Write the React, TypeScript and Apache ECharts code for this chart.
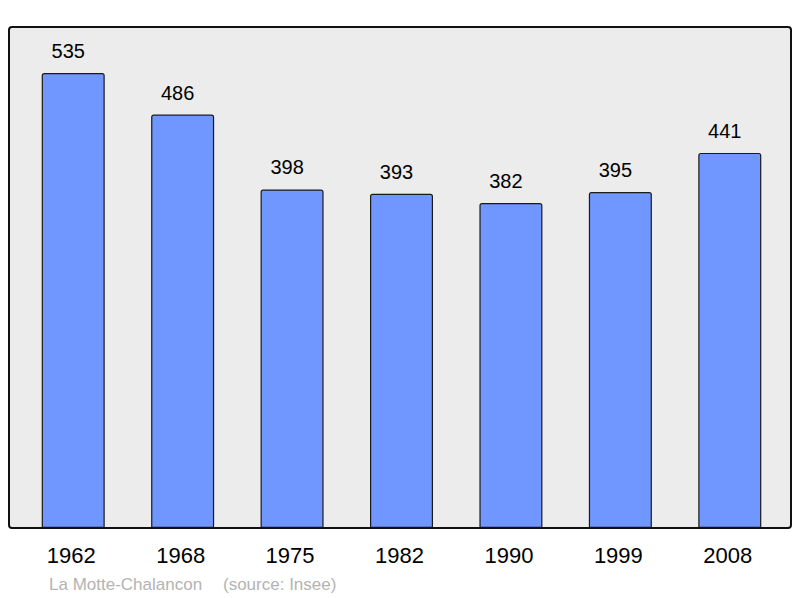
import React, { useEffect, useRef } from 'react';
import * as echarts from 'echarts';

const years = ['1962', '1968', '1975', '1982', '1990', '1999', '2008'];
const population = [535, 486, 398, 393, 382, 395, 441];
const townName = 'La Motte-Chalancon';
const sourceNote = '(source: Insee)';

export default function App() {
  const chartRef = useRef<HTMLDivElement>(null);

  useEffect(() => {
    if (!chartRef.current) return;
    const chart = echarts.init(chartRef.current, undefined, { renderer: 'svg' });

    const font = '"Liberation Sans", Arial, sans-serif';

    chart.setOption({
      animation: false,
      backgroundColor: '#ffffff',
      textStyle: { fontFamily: font },
      grid: { left: 18.5, top: 27, width: 766, height: 501 },
      xAxis: {
        type: 'category',
        data: years,
        axisLine: { show: false },
        axisTick: { show: false },
        axisLabel: {
          color: '#000',
          fontSize: 22,
          margin: 16,
          padding: [0, 4, 0, 0],
          fontFamily: font
        }
      },
      yAxis: {
        type: 'value',
        min: 0,
        max: 589,
        show: false,
        splitLine: { show: false }
      },
      graphic: [
        {
          type: 'rect',
          z: -10,
          shape: { x: 9, y: 27, width: 782, height: 501, r: 3 },
          style: { fill: '#ececec', stroke: 'none' }
        },
        {
          type: 'rect',
          z: 100,
          shape: { x: 9, y: 27, width: 782, height: 501, r: 3 },
          style: { fill: 'none', stroke: '#111', lineWidth: 2 }
        },
        {
          type: 'text',
          x: 49,
          y: 584,
          style: {
            text: townName,
            fill: '#b3b3b3',
            font: `17px ${font}`,
            textVerticalAlign: 'middle'
          }
        },
        {
          type: 'text',
          x: 223,
          y: 584,
          style: {
            text: sourceNote,
            fill: '#b3b3b3',
            font: `17px ${font}`,
            textVerticalAlign: 'middle'
          }
        }
      ],
      series: [
        {
          type: 'bar',
          data: population,
          barWidth: 63,
          itemStyle: {
            color: '#7096ff',
            borderColor: '#1a1a1a',
            borderWidth: 1.2,
            borderRadius: [2, 2, 0, 0]
          },
          label: {
            show: true,
            position: 'top',
            distance: 12,
            offset: [-5, 0],
            color: '#000',
            fontSize: 20,
            fontFamily: font
          }
        }
      ]
    });

    return () => chart.dispose();
  }, []);

  return (
    <div
      ref={chartRef}
      style={{ position: 'absolute', left: 0, top: 0, width: 800, height: 598 }}
    />
  );
}
